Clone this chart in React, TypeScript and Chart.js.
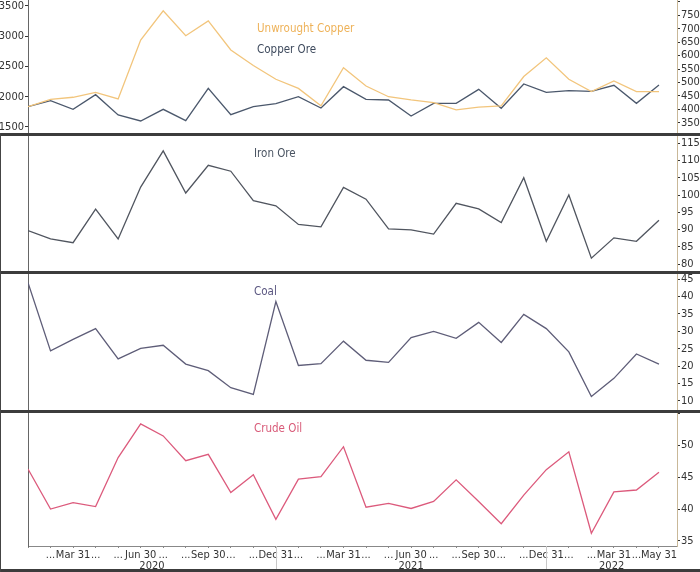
import { useEffect, useRef } from 'react';
import { Chart, registerables } from 'chart.js';
import type { ChartConfiguration, Plugin } from 'chart.js';

Chart.register(...registerables);

const FONT = "'DejaVu Sans Condensed', 'Liberation Sans Narrow', 'DejaVu Sans', sans-serif";

// monthly, Jan 2020 .. May 2022
const xLabels = [
  '', '...', 'Mar 31', '...', '...', 'Jun 30', '...', '...', 'Sep 30', '...', '...', 'Dec 31',
  '...', '...', 'Mar 31', '...', '...', 'Jun 30', '...', '...', 'Sep 30', '...', '...', 'Dec 31',
  '...', '...', 'Mar 31', '...', 'May 31',
];
const yearLabels = ['2020', '2021', '2022'];
const yearBreaks = [11, 23];

const copperOre = [
  1835, 1934, 1791, 2033, 1698, 1599, 1791, 1604, 2137, 1703, 1835, 1885, 2000, 1813, 2165,
  1956, 1945, 1681, 1890, 1890, 2121, 1808, 2209, 2071, 2099, 2088, 2187, 1890, 2192,
];
const unwroughtCopper = [
  410, 437, 445, 463, 439, 658, 767, 674, 729, 621, 563, 512, 478, 413, 555,
  487, 447, 435, 425, 398, 408, 413, 522, 592, 512, 466, 506, 466, 466,
];
const ironOre = [
  89.7, 87.3, 86.2, 95.9, 87.3, 102.3, 112.8, 100.6, 108.6, 106.9, 98.4, 96.9, 91.5, 90.8, 102.2,
  98.8, 90.2, 89.9, 88.7, 97.6, 96.0, 92.0, 105.0, 86.6, 100.0, 81.7, 87.6, 86.6, 92.7,
];
const coal = [
  44.0, 24.4, 27.7, 30.8, 22.1, 25.1, 26.0, 20.6, 18.7, 13.8, 11.9, 38.6, 20.2, 20.7, 27.2,
  21.7, 21.1, 28.2, 30.0, 28.0, 32.6, 26.8, 34.9, 30.8, 24.1, 11.3, 16.5, 23.5, 20.6,
];
const crudeOil = [
  46.3, 40.0, 41.0, 40.4, 48.1, 53.4, 51.5, 47.6, 48.6, 42.6, 45.4, 38.4, 44.7, 45.1, 49.8,
  40.3, 40.9, 40.1, 41.2, 44.6, 41.2, 37.7, 42.2, 46.2, 49.0, 36.2, 42.7, 43.0, 45.8,
];

const toPoints = (values: number[]) => values.map((y, x) => ({ x, y }));

const line = (values: number[], color: string, yAxisID: string) => ({
  data: toPoints(values),
  borderColor: color,
  borderWidth: 1.3,
  pointRadius: 0,
  tension: 0,
  yAxisID,
});

const tickFont = { family: FONT, size: 11 };

// keep tick-label overflow from shrinking the plot area
const noPadY = (width: number) => (s: any) => {
  s.width = width;
  s.paddingTop = 0;
  s.paddingBottom = 0;
};

const xAxis = (show: boolean): any => ({
  type: 'linear',
  min: 0,
  max: 28.8,
  display: show,
  afterFit: (s: any) => {
    if (show) s.height = 26;
    s.paddingLeft = 0;
    s.paddingRight = 0;
  },
  border: { display: true, color: '#888' },
  grid: { drawOnChartArea: false, tickLength: 2, color: '#888' },
  ticks: {
    stepSize: 1,
    autoSkip: false,
    maxRotation: 0,
    includeBounds: false,
    padding: 1,
    color: '#333',
    font: tickFont,
    callback: (v: number) => xLabels[v] ?? '',
  },
});

const rightAxis = (min: number, max: number, step: number, hideAbove: number): any => ({
  position: 'right',
  min,
  max,
  afterFit: noPadY(23),
  border: { color: '#c9b898' },
  grid: { drawOnChartArea: false, tickLength: 3, color: '#333' },
  ticks: {
    stepSize: step,
    autoSkip: false,
    includeBounds: false,
    padding: 1,
    color: '#333',
    font: tickFont,
    callback: (v: number) => (v > hideAbove ? '' : String(v)),
  },
});

const blankLeft: any = {
  position: 'left',
  afterFit: noPadY(28),
  border: { color: '#666' },
  grid: { display: false },
  ticks: { display: false },
};

const baseOptions = (scales: any): any => ({
  animation: false,
  responsive: false,
  maintainAspectRatio: false,
  layout: { padding: 0 },
  plugins: { legend: { display: false }, tooltip: { enabled: false } },
  scales,
});

const yearPlugin: Plugin<'line'> = {
  id: 'years',
  afterDraw(chart) {
    const { ctx, chartArea } = chart;
    const x = chart.scales.x;
    const bounds = [chartArea.left, ...yearBreaks.map((b) => x.getPixelForValue(b)), chartArea.right];
    ctx.save();
    ctx.strokeStyle = '#c8c8c8';
    ctx.lineWidth = 1;
    yearBreaks.forEach((b) => {
      const px = Math.round(x.getPixelForValue(b)) + 0.5;
      ctx.beginPath();
      ctx.moveTo(px, chartArea.bottom);
      ctx.lineTo(px, chart.height);
      ctx.stroke();
    });
    ctx.fillStyle = '#333';
    ctx.font = `11px ${FONT}`;
    ctx.textAlign = 'center';
    ctx.textBaseline = 'middle';
    yearLabels.forEach((label, i) => {
      ctx.fillText(label, (bounds[i] + bounds[i + 1]) / 2, chartArea.bottom + 20);
    });
    ctx.restore();
  },
};

const copperConfig: ChartConfiguration<'line'> = {
  type: 'line',
  data: {
    datasets: [
      line(unwroughtCopper, '#f2c57c', 'yR'),
      line(copperOre, '#4b586c', 'yL'),
    ],
  },
  options: baseOptions({
    x: xAxis(false),
    yL: {
      position: 'left',
      min: 1401,
      max: 3594,
      afterFit: noPadY(28),
      border: { color: '#666' },
      grid: { drawOnChartArea: false, tickLength: 3, color: '#333' },
      ticks: {
        autoSkip: false,
        includeBounds: false,
        padding: 1,
        color: '#333',
        font: tickFont,
        callback: (v: number) => String(v),
      },
    },
    yR: rightAxis(312, 807, 50, 760),
  }),
};

const ironConfig: ChartConfiguration<'line'> = {
  type: 'line',
  data: { datasets: [line(ironOre, '#50555f', 'yR')] },
  options: baseOptions({ x: xAxis(false), yL: blankLeft, yR: rightAxis(78, 117.1, 5, 200) }),
};

const coalConfig: ChartConfiguration<'line'> = {
  type: 'line',
  data: { datasets: [line(coal, '#5e5d78', 'yR')] },
  options: baseOptions({ x: xAxis(false), yL: blankLeft, yR: rightAxis(7.4, 46.5, 5, 100) }),
};

const crudeConfig: ChartConfiguration<'line'> = {
  type: 'line',
  data: { datasets: [line(crudeOil, '#dc5a7c', 'yR')] },
  options: baseOptions({ x: xAxis(true), yL: blankLeft, yR: rightAxis(34.2, 55.1, 5, 52) }),
  plugins: [yearPlugin],
};

function Panel({ top, height, config }: { top: number; height: number; config: ChartConfiguration<'line'> }) {
  const canvasRef = useRef<HTMLCanvasElement>(null);

  useEffect(() => {
    const canvas = canvasRef.current;
    if (!canvas) return;
    const chart = new Chart(canvas, config);
    return () => chart.destroy();
  }, [config]);

  return (
    <canvas
      ref={canvasRef}
      width={700}
      height={height}
      style={{ position: 'absolute', left: 0, top, width: 700, height }}
    />
  );
}

const labelStyle = (left: number, top: number, color: string): React.CSSProperties => ({
  position: 'absolute',
  left,
  top,
  color,
  fontFamily: FONT,
  fontSize: 11.5,
  lineHeight: '14px',
  whiteSpace: 'nowrap',
});

const bar = (top: number, height: number): React.CSSProperties => ({
  position: 'absolute',
  left: 0,
  top,
  width: 700,
  height,
  background: '#3c3c3c',
});

export default function App() {
  return (
    <div style={{ position: 'absolute', left: 0, top: 0, width: 700, height: 572, background: '#fff', overflow: 'hidden' }}>
      <Panel top={0} height={133} config={copperConfig} />
      <Panel top={136} height={135} config={ironConfig} />
      <Panel top={274} height={136} config={coalConfig} />
      <Panel top={413} height={159} config={crudeConfig} />

      <div style={bar(133, 3)} />
      <div style={bar(271, 3)} />
      <div style={bar(410, 3)} />
      <div style={bar(569, 3)} />
      <div style={{ position: 'absolute', left: 0, top: 133, width: 1, height: 439, background: '#444' }} />

      <div style={labelStyle(257, 21, '#eeb259')}>Unwrought Copper</div>
      <div style={labelStyle(257, 42, '#3f4b5e')}>Copper Ore</div>
      <div style={labelStyle(254, 146, '#4a5462')}>Iron Ore</div>
      <div style={labelStyle(254, 284, '#5a5680')}>Coal</div>
      <div style={labelStyle(254, 421, '#d85a78')}>Crude Oil</div>
    </div>
  );
}
